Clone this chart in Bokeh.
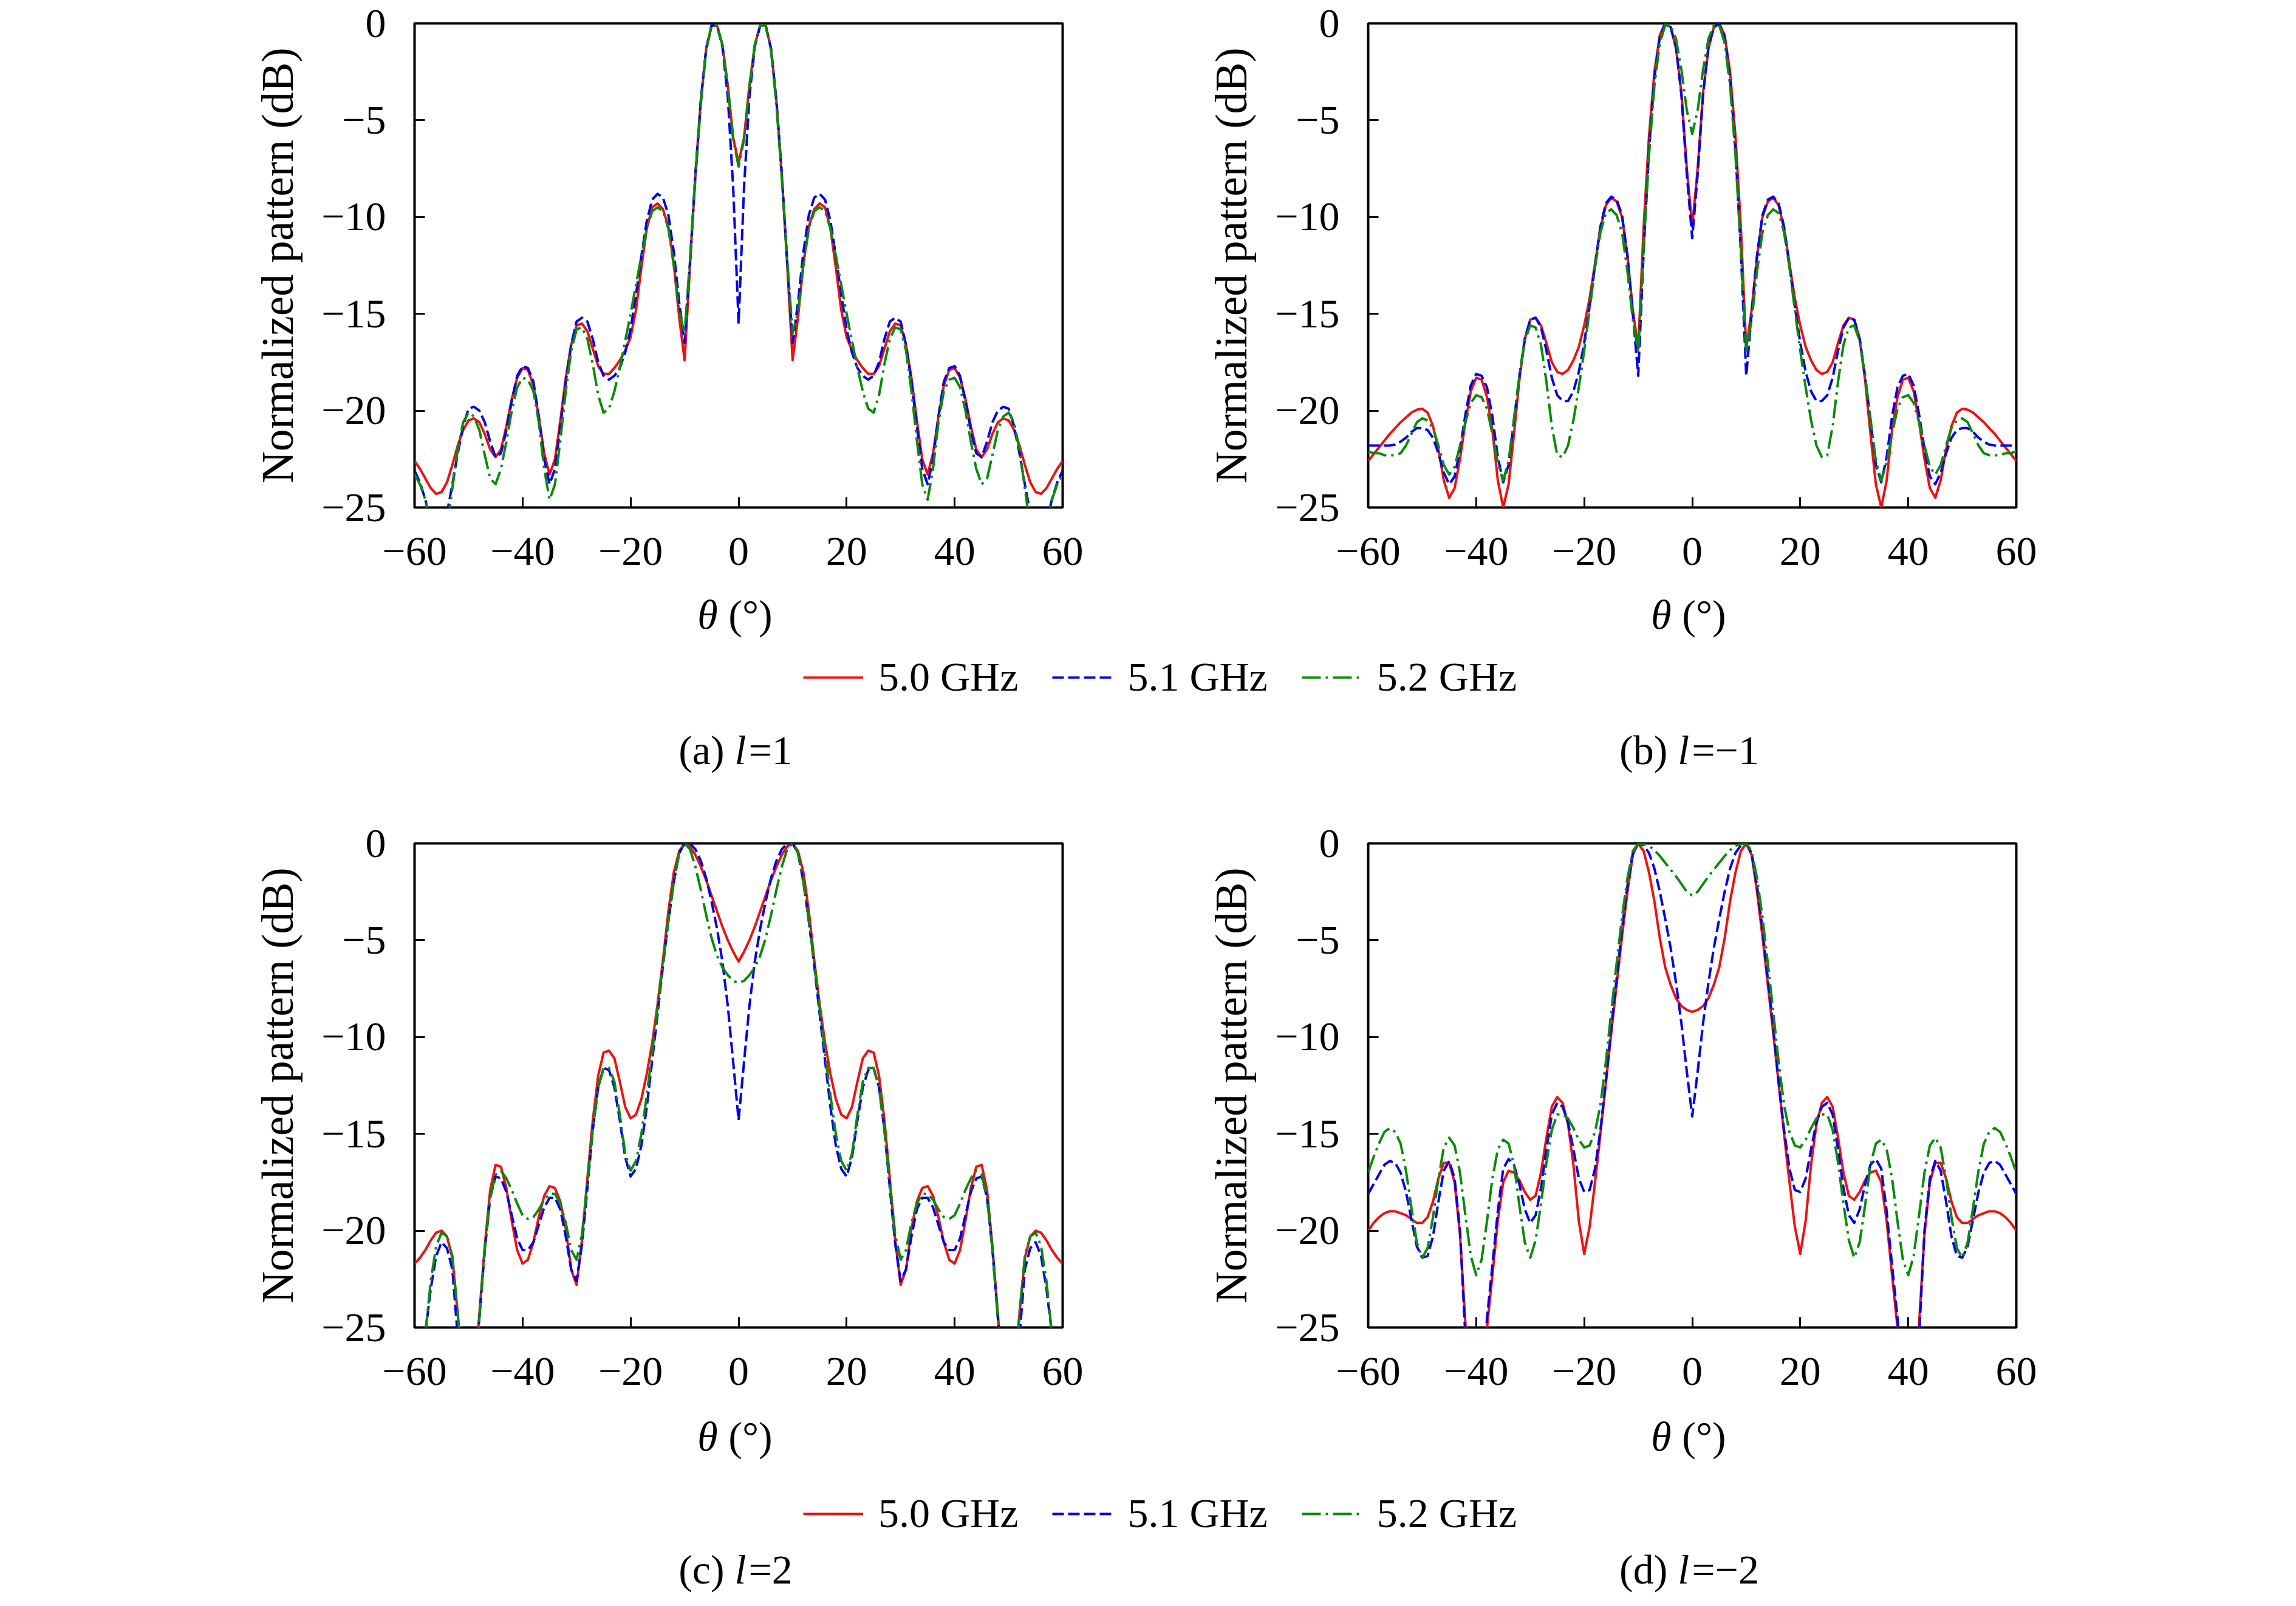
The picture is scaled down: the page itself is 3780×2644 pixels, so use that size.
from bokeh.plotting import figure
from bokeh.layouts import column, row
from bokeh.models import Range1d, FixedTicker, Legend, LegendItem, CustomJSTickFormatter
from bokeh.core.properties import value
from bokeh.embed import file_html
from bokeh.resources import INLINE

# ---------------- data (theta in degrees, pattern in dB) ----------------
THETA = list(range(-60, 61))

# (a) l = 1
A_50 = [-22.6,-23.0,-23.5,-24.0,-24.3,-24.2,-23.7,-22.8,-21.8,-21.0,
        -20.5,-20.4,-20.6,-21.2,-22.0,-22.4,-22.0,-20.8,-19.4,-18.3,
        -17.8,-17.9,-18.7,-20.3,-22.2,-23.3,-22.5,-20.5,-18.3,-16.6,
        -15.6,-15.5,-15.9,-16.8,-17.7,-18.1,-18.1,-17.8,-17.4,-16.9,
        -16.2,-14.8,-12.6,-10.6,-9.5,-9.3,-9.6,-10.5,-12.4,-15.2,
        -17.4,-12.5,-7.8,-4.0,-1.3,-0.1,-0.1,-1.1,-3.2,-5.9,
        -7.2,
        -5.9,-3.2,-1.1,-0.1,-0.1,-1.3,-4.0,-7.8,-12.5,-17.4,
        -15.2,-12.4,-10.5,-9.6,-9.3,-9.5,-10.6,-12.6,-14.8,-16.2,
        -16.9,-17.4,-17.8,-18.1,-18.1,-17.7,-16.8,-15.9,-15.5,-15.6,
        -16.6,-18.3,-20.5,-22.5,-23.3,-22.2,-20.3,-18.7,-17.9,-17.8,
        -18.3,-19.4,-20.8,-22.0,-22.4,-22.0,-21.2,-20.6,-20.4,-20.5,
        -21.0,-21.8,-22.8,-23.7,-24.2,-24.3,-24.0,-23.5,-23.0,-22.6]
A_51 = [-23.1,-23.7,-24.6,-25.8,-26.5,-26.3,-25.3,-23.8,-22.2,-20.8,
        -19.9,-19.8,-20.0,-20.6,-21.6,-22.4,-22.2,-21.0,-19.5,-18.2,
        -17.7,-17.8,-18.5,-20.3,-22.5,-23.8,-23.0,-20.8,-18.5,-16.6,
        -15.4,-15.2,-15.4,-16.3,-17.5,-18.2,-18.4,-18.2,-17.8,-17.0,
        -15.8,-14.0,-12.0,-10.2,-9.1,-8.8,-9.0,-9.9,-11.8,-14.4,
        -16.5,-12.3,-7.8,-4.0,-1.3,-0.1,-0.1,-1.2,-3.8,-8.5,
        -15.5,
        -8.5,-3.8,-1.2,-0.1,-0.1,-1.3,-4.0,-7.8,-12.3,-16.5,
        -14.4,-11.8,-9.9,-9.0,-8.8,-9.1,-10.2,-12.0,-14.0,-15.8,
        -17.0,-17.8,-18.2,-18.4,-18.2,-17.5,-16.3,-15.4,-15.2,-15.4,
        -16.6,-18.5,-20.8,-23.0,-23.8,-22.5,-20.3,-18.5,-17.8,-17.7,
        -18.2,-19.5,-21.0,-22.2,-22.4,-21.6,-20.6,-20.0,-19.8,-19.9,
        -20.8,-22.2,-23.8,-25.3,-26.3,-26.5,-25.8,-24.6,-23.7,-23.1]
A_52 = [-23.3,-23.8,-24.6,-26.0,-27.5,-27.5,-26.0,-24.0,-22.0,-20.6,
        -20.1,-20.3,-21.0,-22.3,-23.5,-23.8,-23.0,-21.6,-20.0,-18.8,
        -18.3,-18.4,-19.0,-20.6,-23.0,-24.6,-23.8,-21.5,-19.0,-16.9,
        -15.8,-15.7,-16.3,-17.6,-19.2,-20.1,-19.9,-19.0,-17.8,-16.4,
        -15.0,-13.5,-12.0,-10.6,-9.7,-9.5,-9.7,-10.6,-12.5,-14.9,
        -16.0,-12.2,-8.0,-4.2,-1.4,-0.1,-0.1,-1.1,-3.3,-6.0,
        -7.4,
        -6.0,-3.3,-1.1,-0.1,-0.1,-1.4,-4.2,-8.0,-12.2,-16.0,
        -14.9,-12.5,-10.6,-9.7,-9.5,-9.7,-10.6,-12.0,-13.5,-15.0,
        -16.4,-17.8,-19.0,-19.9,-20.1,-19.2,-17.6,-16.3,-15.7,-15.8,
        -16.9,-19.0,-21.5,-23.8,-24.6,-23.0,-20.6,-19.0,-18.4,-18.3,
        -18.8,-20.0,-21.6,-23.0,-23.8,-23.5,-22.3,-21.0,-20.3,-20.1,
        -20.6,-22.0,-24.0,-26.0,-27.5,-27.5,-26.0,-24.6,-23.8,-23.3]

# (b) l = -1
B_50 = [-22.6,-22.25,-21.9,-21.55,-21.2,-20.9,-20.6,-20.35,-20.1,-19.95,
        -19.9,-20.1,-20.8,-22.0,-23.6,-24.5,-24.0,-22.5,-20.6,-19.0,
        -18.3,-18.4,-19.3,-21.0,-23.6,-25.0,-23.8,-21.2,-18.4,-16.3,
        -15.3,-15.2,-15.6,-16.5,-17.5,-18.0,-18.1,-17.9,-17.4,-16.7,
        -15.6,-14.2,-12.4,-10.6,-9.4,-9.0,-9.2,-10.0,-12.0,-14.8,
        -16.8,-10.5,-5.8,-2.5,-0.6,0.0,-0.2,-1.3,-3.6,-7.5,
        -10.5,
        -7.5,-3.6,-1.3,-0.2,0.0,-0.6,-2.5,-5.8,-10.5,-16.8,
        -14.8,-12.0,-10.0,-9.2,-9.0,-9.4,-10.6,-12.4,-14.2,-15.6,
        -16.7,-17.4,-17.9,-18.1,-18.0,-17.5,-16.5,-15.6,-15.2,-15.3,
        -16.3,-18.4,-21.2,-23.8,-25.0,-23.6,-21.0,-19.3,-18.4,-18.3,
        -19.0,-20.6,-22.5,-24.0,-24.5,-23.6,-22.0,-20.8,-20.1,-19.9,
        -19.95,-20.1,-20.35,-20.6,-20.9,-21.2,-21.55,-21.9,-22.25,-22.6]
B_51 = [-21.8,-21.8,-21.8,-21.8,-21.8,-21.75,-21.6,-21.4,-21.1,-20.9,
        -20.9,-21.0,-21.4,-22.2,-23.2,-23.8,-23.4,-22.0,-20.2,-18.7,
        -18.1,-18.2,-18.8,-20.3,-22.4,-23.7,-22.8,-20.5,-18.2,-16.3,
        -15.3,-15.2,-15.7,-16.9,-18.3,-19.2,-19.5,-19.5,-19.0,-18.0,
        -16.5,-14.6,-12.5,-10.5,-9.3,-8.95,-9.1,-9.9,-12.0,-15.0,
        -18.2,-11.8,-6.5,-2.8,-0.7,0.0,-0.2,-1.2,-3.7,-7.8,
        -11.1,
        -7.8,-3.7,-1.2,-0.2,0.0,-0.7,-2.8,-6.5,-11.8,-18.2,
        -15.0,-12.0,-9.9,-9.1,-8.95,-9.3,-10.5,-12.5,-14.6,-16.5,
        -18.0,-19.0,-19.5,-19.5,-19.2,-18.3,-16.9,-15.7,-15.2,-15.3,
        -16.3,-18.2,-20.5,-22.8,-23.7,-22.4,-20.3,-18.8,-18.2,-18.1,
        -18.7,-20.2,-22.0,-23.4,-23.8,-23.2,-22.2,-21.4,-21.0,-20.9,
        -20.9,-21.1,-21.4,-21.6,-21.75,-21.8,-21.8,-21.8,-21.8,-21.8]
B_52 = [-22.1,-22.2,-22.2,-22.3,-22.3,-22.3,-22.2,-21.8,-21.2,-20.6,
        -20.4,-20.5,-20.9,-21.8,-22.8,-23.3,-22.9,-21.8,-20.6,-19.6,
        -19.2,-19.3,-19.9,-21.2,-22.7,-23.6,-22.6,-20.4,-18.2,-16.4,
        -15.6,-15.7,-16.6,-18.5,-20.8,-22.3,-22.4,-21.8,-20.5,-18.8,
        -16.9,-14.8,-12.6,-10.8,-9.8,-9.6,-9.9,-10.8,-12.8,-15.3,
        -17.0,-11.6,-6.8,-3.2,-1.0,-0.1,-0.1,-0.8,-2.4,-4.5,
        -5.7,
        -4.5,-2.4,-0.8,-0.1,-0.1,-1.0,-3.2,-6.8,-11.6,-17.0,
        -15.3,-12.8,-10.8,-9.9,-9.6,-9.8,-10.8,-12.6,-14.8,-16.9,
        -18.8,-20.5,-21.8,-22.4,-22.3,-20.8,-18.5,-16.6,-15.7,-15.6,
        -16.4,-18.2,-20.4,-22.6,-23.6,-22.7,-21.2,-19.9,-19.3,-19.2,
        -19.6,-20.6,-21.8,-22.9,-23.3,-22.8,-21.8,-20.9,-20.5,-20.4,
        -20.6,-21.2,-21.8,-22.2,-22.3,-22.3,-22.3,-22.2,-22.2,-22.1]

# (c) l = 2
C_50 = [-21.7,-21.4,-21.0,-20.5,-20.1,-20.0,-20.3,-21.4,-24.3,-28.0,
        -30.0,-28.0,-24.3,-20.8,-17.9,-16.6,-16.7,-17.8,-19.5,-21.0,
        -21.7,-21.5,-20.6,-19.3,-18.2,-17.7,-17.8,-18.5,-19.9,-22.0,
        -22.8,-20.5,-17.3,-14.3,-12.0,-10.8,-10.7,-11.1,-12.3,-13.6,
        -14.2,-14.0,-13.2,-11.9,-10.3,-8.3,-6.0,-3.5,-1.5,-0.4,
        0.0,-0.15,-0.6,-1.2,-1.9,-2.7,-3.5,-4.3,-5.0,-5.6,
        -6.1,
        -5.6,-5.0,-4.3,-3.5,-2.7,-1.9,-1.2,-0.6,-0.15,0.0,
        -0.4,-1.5,-3.5,-6.0,-8.3,-10.3,-11.9,-13.2,-14.0,-14.2,
        -13.6,-12.3,-11.1,-10.7,-10.8,-12.0,-14.3,-17.3,-20.5,-22.8,
        -22.0,-19.9,-18.5,-17.8,-17.7,-18.2,-19.3,-20.6,-21.5,-21.7,
        -21.0,-19.5,-17.8,-16.7,-16.6,-17.9,-20.8,-24.3,-28.0,-30.0,
        -28.0,-24.3,-21.4,-20.3,-20.0,-20.1,-20.5,-21.0,-21.4,-21.7]
C_51 = [-28.5,-27.5,-25.3,-23.0,-21.3,-20.6,-20.9,-22.0,-25.5,-28.0,
        -30.0,-28.0,-24.5,-21.0,-18.3,-17.2,-17.3,-18.0,-19.2,-20.4,
        -21.0,-21.0,-20.6,-19.7,-18.8,-18.3,-18.3,-18.9,-20.3,-22.0,
        -22.6,-20.7,-17.8,-14.8,-12.6,-11.6,-11.7,-12.6,-14.3,-16.2,
        -17.2,-16.8,-15.6,-13.6,-11.2,-8.8,-6.3,-4.0,-2.0,-0.5,
        0.0,0.0,-0.3,-0.9,-1.8,-3.0,-4.4,-6.1,-8.4,-11.3,
        -14.3,
        -11.3,-8.4,-6.1,-4.4,-3.0,-1.8,-0.9,-0.3,0.0,0.0,
        -0.5,-2.0,-4.0,-6.3,-8.8,-11.2,-13.6,-15.6,-16.8,-17.2,
        -16.2,-14.3,-12.6,-11.7,-11.6,-12.6,-14.8,-17.8,-20.7,-22.6,
        -22.0,-20.3,-18.9,-18.3,-18.3,-18.8,-19.7,-20.6,-21.0,-21.0,
        -20.4,-19.2,-18.0,-17.3,-17.2,-18.3,-21.0,-24.5,-28.0,-30.0,
        -28.0,-25.5,-22.0,-20.9,-20.6,-21.3,-23.0,-25.3,-27.5,-28.5]
C_52 = [-28.5,-27.5,-25.3,-22.6,-20.8,-20.1,-20.3,-21.3,-24.3,-28.0,
        -30.0,-28.0,-24.5,-21.0,-18.3,-17.1,-16.9,-17.3,-17.9,-18.6,
        -19.2,-19.4,-19.3,-18.9,-18.4,-18.1,-18.1,-18.6,-19.6,-21.0,
        -21.5,-20.2,-17.5,-14.8,-12.6,-11.6,-11.6,-12.3,-14.0,-16.0,
        -16.9,-16.4,-15.0,-13.0,-10.8,-8.5,-6.2,-4.0,-2.0,-0.5,
        0.0,-0.3,-1.2,-2.4,-3.7,-4.9,-5.8,-6.4,-6.8,-7.1,
        -7.2,
        -7.1,-6.8,-6.4,-5.8,-4.9,-3.7,-2.4,-1.2,-0.3,0.0,
        -0.5,-2.0,-4.0,-6.2,-8.5,-10.8,-13.0,-15.0,-16.4,-16.9,
        -16.0,-14.0,-12.3,-11.6,-11.6,-12.6,-14.8,-17.5,-20.2,-21.5,
        -21.0,-19.6,-18.6,-18.1,-18.1,-18.4,-18.9,-19.3,-19.4,-19.2,
        -18.6,-17.9,-17.3,-16.9,-17.1,-18.3,-21.0,-24.5,-28.0,-30.0,
        -28.0,-24.3,-21.3,-20.3,-20.1,-20.8,-22.6,-25.3,-27.5,-28.5]

# (d) l = -2
D_50 = [-20.0,-19.6,-19.3,-19.1,-19.0,-19.0,-19.1,-19.2,-19.4,-19.6,
        -19.6,-19.3,-18.5,-17.3,-16.5,-16.5,-17.5,-20.2,-24.8,-28.0,
        -30.0,-28.5,-25.0,-22.3,-19.5,-17.5,-16.9,-17.0,-17.4,-18.0,
        -18.4,-18.2,-17.0,-15.2,-13.6,-13.1,-13.4,-14.5,-16.6,-19.5,
        -21.2,-19.8,-17.5,-15.0,-12.4,-9.8,-7.3,-4.8,-2.5,-0.6,
        0.0,-0.4,-1.5,-3.0,-4.9,-6.4,-7.3,-8.0,-8.4,-8.6,
        -8.7,
        -8.6,-8.4,-8.0,-7.3,-6.4,-4.9,-3.0,-1.5,-0.4,0.0,
        -0.6,-2.5,-4.8,-7.3,-9.8,-12.4,-15.0,-17.5,-19.8,-21.2,
        -19.5,-16.6,-14.5,-13.4,-13.1,-13.6,-15.2,-17.0,-18.2,-18.4,
        -18.0,-17.4,-17.0,-16.9,-17.5,-19.5,-22.3,-25.0,-28.5,-30.0,
        -28.0,-24.8,-20.2,-17.5,-16.5,-16.5,-17.3,-18.5,-19.3,-19.6,
        -19.6,-19.4,-19.2,-19.1,-19.0,-19.0,-19.1,-19.3,-19.6,-20.0]
D_51 = [-18.1,-17.6,-17.1,-16.6,-16.4,-16.5,-17.0,-18.0,-19.4,-20.8,
        -21.4,-21.3,-20.3,-18.5,-16.9,-16.4,-17.3,-20.0,-25.5,-28.0,
        -30.0,-29.0,-24.5,-21.8,-19.0,-16.8,-16.3,-16.6,-17.6,-18.9,
        -19.6,-19.2,-17.8,-15.8,-14.0,-13.4,-13.6,-14.4,-15.8,-17.3,
        -18.0,-17.9,-16.8,-14.8,-12.3,-9.5,-7.0,-4.4,-2.2,-0.5,
        0.0,-0.1,-0.5,-1.3,-2.5,-3.9,-5.4,-7.2,-9.3,-11.8,
        -14.1,
        -11.8,-9.3,-7.2,-5.4,-3.9,-2.5,-1.3,-0.5,-0.1,0.0,
        -0.5,-2.2,-4.4,-7.0,-9.5,-12.3,-14.8,-16.8,-17.9,-18.0,
        -17.3,-15.8,-14.4,-13.6,-13.4,-14.0,-15.8,-17.8,-19.2,-19.6,
        -18.9,-17.6,-16.6,-16.3,-16.8,-19.0,-21.8,-24.5,-29.0,-30.0,
        -28.0,-25.5,-20.0,-17.3,-16.4,-16.9,-18.5,-20.3,-21.3,-21.4,
        -20.8,-19.4,-18.0,-17.0,-16.5,-16.4,-16.6,-17.1,-17.6,-18.1]
D_52 = [-17.0,-16.2,-15.5,-14.9,-14.7,-14.9,-15.5,-16.9,-18.8,-20.6,
        -21.4,-20.9,-19.3,-17.3,-15.7,-15.2,-15.6,-17.0,-19.2,-21.3,
        -22.3,-21.5,-19.5,-17.3,-15.8,-15.3,-15.5,-16.6,-18.7,-20.6,
        -21.4,-20.5,-18.6,-16.5,-14.8,-14.0,-14.0,-14.2,-14.7,-15.3,
        -15.7,-15.6,-14.9,-13.5,-11.3,-8.7,-6.2,-3.8,-1.8,-0.4,
        0.0,-0.02,-0.12,-0.35,-0.65,-1.0,-1.35,-1.7,-2.1,-2.5,
        -2.7,
        -2.5,-2.1,-1.7,-1.35,-1.0,-0.65,-0.35,-0.12,-0.02,0.0,
        -0.4,-1.8,-3.8,-6.2,-8.7,-11.3,-13.5,-14.9,-15.6,-15.7,
        -15.3,-14.7,-14.2,-14.0,-14.0,-14.8,-16.5,-18.6,-20.5,-21.4,
        -20.6,-18.7,-16.6,-15.5,-15.3,-15.8,-17.3,-19.5,-21.5,-22.3,
        -21.3,-19.2,-17.0,-15.6,-15.2,-15.7,-17.3,-19.3,-20.9,-21.4,
        -20.6,-18.8,-16.9,-15.5,-14.9,-14.7,-14.9,-15.5,-16.2,-17.0]

SERIES_NAMES = ["5.0 GHz", "5.1 GHz", "5.2 GHz"]
PANELS = [[A_50, A_51, A_52], [B_50, B_51, B_52], [C_50, C_51, C_52], [D_50, D_51, D_52]]
CAPTIONS = [("(a) ", "l", "=1"), ("(b) ", "l", "=\u22121"), ("(c) ", "l", "=2"), ("(d) ", "l", "=\u22122")]
X_TICKS = [-60, -40, -20, 0, 20, 40, 60]
Y_TICKS = [-25, -20, -15, -10, -5, 0]
X_LABEL = ("\u03b8", "(\u00b0)")
Y_LABEL = "Normalized pattern (dB)"

# ---------------- style / layout ----------------
COLORS = ["#ee1111", "#0000ee", "#0a8a0a"]
DASHES = ["solid", "19 7", "31 8 4 8"]
FONT = "Liberation Serif"
FS = 68
YLFS = 73

TOTAL_W = 3752
LEFT_W, RIGHT_W = 1892, 1860
FRAME_W = 1067
FRAME_H = 797
BL_L, BL_R = 682, 360
BT, BB = 38, 122
ROW_H = BT + FRAME_H + BB
B1_H = 393
B2_H = 2628 - 2 * ROW_H - B1_H

EM = {'(': .333, ')': .333, 'a': .444, 'b': .5, 'c': .444, 'd': .5, ' ': .25, '=': .564,
      '1': .5, '2': .5, '\u2212': .564, '\u00b0': .4, 'l': .278, '\u03b8': .5}


def tw(s, fs=FS):
    return sum(EM.get(ch, .5) for ch in s) * fs


fmt = CustomJSTickFormatter(code="return String(tick).replace('-', '\u2212');")


def panel(series, width, bl, br):
    p = figure(width=width, height=ROW_H, x_range=Range1d(-60, 60), y_range=Range1d(-25, 0),
               output_backend="svg", toolbar_location=None,
               min_border_left=bl, min_border_right=br, min_border_top=BT, min_border_bottom=BB)
    for vals, c, d in zip(series, COLORS, DASHES):
        p.line(THETA, vals, line_color=c, line_width=4, line_dash=d, line_join="round")
    p.grid.visible = False
    p.outline_line_color = "black"
    p.outline_line_width = 4
    p.outline_line_alpha = 1.0
    p.background_fill_color = "white"
    p.border_fill_color = "white"
    for ax, ticks in ((p.xaxis[0], X_TICKS), (p.yaxis[0], Y_TICKS)):
        ax.ticker = FixedTicker(ticks=ticks)
        ax.formatter = fmt
        ax.major_tick_in = 17
        ax.major_tick_out = 0
        ax.major_tick_line_width = 3
        ax.major_tick_line_color = "black"
        ax.minor_tick_line_color = None
        ax.axis_line_color = None
        ax.major_label_text_font = FONT
        ax.major_label_text_font_size = f"{FS}px"
        ax.major_label_text_color = "black"
    p.xaxis.major_label_standoff = 50
    p.yaxis.major_label_standoff = 47
    p.yaxis.axis_label = Y_LABEL
    p.yaxis.axis_label_text_font = FONT
    p.yaxis.axis_label_text_font_size = f"{YLFS}px"
    p.yaxis.axis_label_text_font_style = "normal"
    p.yaxis.axis_label_text_color = "black"
    p.yaxis.axis_label_standoff = 28
    return p


def below(h, theta_c, legend_c, cap_c, caps):
    b = figure(width=TOTAL_W, height=h, x_range=Range1d(0, TOTAL_W), y_range=Range1d(0, h),
               x_axis_type=None, y_axis_type=None, output_backend="svg", toolbar_location=None,
               min_border=0)
    b.outline_line_color = None
    b.background_fill_color = "white"
    b.border_fill_color = "white"
    centers = [BL_L + FRAME_W / 2, LEFT_W + BL_R + FRAME_W / 2]
    xs_n, ys_n, ts_n, xs_i, ys_i, ts_i = [], [], [], [], [], []
    for cx, cap in zip(centers, caps):
        # x-axis label: italic theta + (deg)
        w1 = tw(X_LABEL[0]) + tw(" ")
        tot = w1 + tw(X_LABEL[1])
        x0 = cx - 6 - tot / 2
        xs_i.append(x0); ys_i.append(h - theta_c); ts_i.append(X_LABEL[0])
        xs_n.append(x0 + w1); ys_n.append(h - theta_c); ts_n.append(X_LABEL[1])
        # sub-caption
        pre, it, post = cap
        wp, wi = tw(pre), tw(it) + 4
        tot = wp + wi + tw(post)
        x0 = cx - 5 - tot / 2
        xs_n.append(x0); ys_n.append(h - cap_c); ts_n.append(pre.strip())
        xs_i.append(x0 + wp); ys_i.append(h - cap_c); ts_i.append(it)
        xs_n.append(x0 + wp + wi); ys_n.append(h - cap_c); ts_n.append(post)
    common = dict(text_font=value(FONT), text_font_size=f"{FS}px", text_color="black",
                  text_align="left", text_baseline="middle")
    b.text(x=xs_n, y=ys_n, text=ts_n, text_font_style="normal", **common)
    b.text(x=xs_i, y=ys_i, text=ts_i, text_font_style="italic", **common)
    items = []
    for name, c, d in zip(SERIES_NAMES, COLORS, DASHES):
        r = b.line(x=[float("nan")], y=[float("nan")], line_color=c, line_width=4, line_dash=d)
        items.append(LegendItem(label=name, renderers=[r]))
    GH = 78
    leg = Legend(items=items, orientation="horizontal",
                 location=(1322, h - legend_c - GH / 2),
                 glyph_width=99, glyph_height=GH, label_height=GH, label_standoff=25, spacing=56,
                 padding=0, margin=0, border_line_color=None, background_fill_alpha=0,
                 label_text_font=FONT, label_text_font_size=f"{FS}px", label_text_color="black")
    b.add_layout(leg)
    return b


pa = panel(PANELS[0], LEFT_W, BL_L, LEFT_W - BL_L - FRAME_W)
pb = panel(PANELS[1], RIGHT_W, BL_R, RIGHT_W - BL_R - FRAME_W)
pc = panel(PANELS[2], LEFT_W, BL_L, LEFT_W - BL_L - FRAME_W)
pd = panel(PANELS[3], RIGHT_W, BL_R, RIGHT_W - BL_R - FRAME_W)
b1 = below(B1_H, 54, 158, 277, CAPTIONS[0:2])
b2 = below(B2_H, 57, 185, B2_H - 45, CAPTIONS[2:4])

layout = column(row(pa, pb), b1, row(pc, pd), b2)
open("out.html", "w").write(file_html(layout, INLINE, "Normalized pattern"))
